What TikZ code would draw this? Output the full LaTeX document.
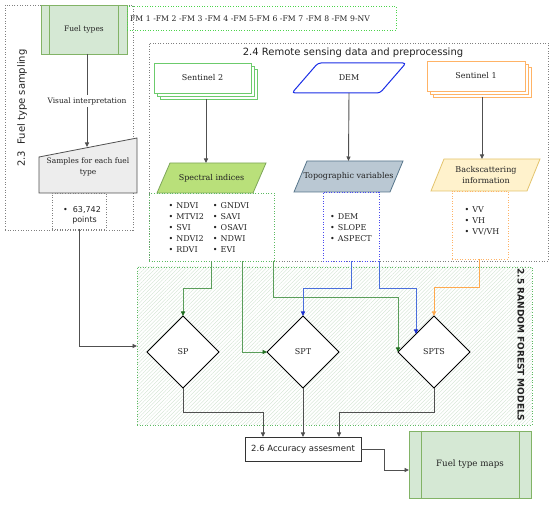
\documentclass[tikz,border=0pt]{standalone}
\usepackage{fontspec}
\setmainfont{DejaVu Serif}
\setsansfont{DejaVu Sans}
\usetikzlibrary{arrows.meta,shapes.geometric,patterns.meta,calc}
\definecolor{fuelfill}{HTML}{D5E8D4}
\definecolor{fuelline}{HTML}{82B366}
\definecolor{fmgreen}{HTML}{4CD44C}
\definecolor{s2green}{HTML}{6CCB6C}
\definecolor{demblue}{HTML}{1A2EE6}
\definecolor{s1orange}{HTML}{FFB366}
\definecolor{specfill}{HTML}{B9E07A}
\definecolor{specline}{HTML}{7EA65A}
\definecolor{topofill}{HTML}{BAC8D3}
\definecolor{topoline}{HTML}{56758A}
\definecolor{backfill}{HTML}{FFF2CC}
\definecolor{backline}{HTML}{E3C46E}
\definecolor{glist}{HTML}{5DBB63}
\definecolor{blist}{HTML}{4A4AF0}
\definecolor{olist}{HTML}{FFB366}
\definecolor{gconn}{HTML}{5A9E5A}
\definecolor{gtip}{HTML}{1E6E1E}
\definecolor{bconn}{HTML}{4A6FDC}
\definecolor{btip}{HTML}{1A2FD0}
\definecolor{oconn}{HTML}{FFA94D}
\definecolor{grayc}{HTML}{505050}
\definecolor{hatch}{HTML}{CFE2CF}
\definecolor{txt}{HTML}{222222}
\begin{document}
\begin{tikzpicture}[x=1pt,y=-1pt,
  every node/.style={inner sep=0pt,outer sep=0pt,text=txt},
  sf/.style={font=\fontsize{8}{9.5}\selectfont},
  sans/.style={font=\sffamily\fontsize{#1}{#1}\selectfont},
  grp/.style={draw=#1,line width=0.8pt,dash pattern=on 1pt off 1.6pt},
  proc/.style={draw=fuelline,fill=fuelfill,line width=0.8pt},
  stackbox/.style={draw=#1,fill=white,line width=0.9pt,minimum width=97,minimum height=30},
  garrow/.style={draw=grayc,line width=0.9pt,-{Triangle[length=4.5pt,width=4pt]}},
  grarrow/.style={draw=gconn,line width=0.9pt,-{Triangle[length=4.5pt,width=4pt,fill=gtip,color=gtip]}},
  blarrow/.style={draw=bconn,line width=0.9pt,-{Triangle[length=4.5pt,width=4pt,fill=btip,color=btip]}},
  orarrow/.style={draw=oconn,line width=0.9pt,-{Triangle[length=4.5pt,width=4pt]}},
  dia/.style={diamond,draw=black,fill=white,line width=0.9pt,minimum width=72,minimum height=72,sf},
]
\useasboundingbox (0,0) rectangle (550,505);

% ---------- 2.3 group
\node[grp=gray,minimum width=128,minimum height=225] (g23) at (69,117.5) {};
\node[sans=10,rotate=90] (t23) at (22,108) {2.3\ \ Fuel type sampling};

\node[proc,minimum width=86,minimum height=49,font=\fontsize{7.5}{9}\selectfont] (fuel) at (84,29.5) {Fuel types};
\draw[fuelline,line width=0.8pt] ([xshift=8pt]fuel.north west) -- ([xshift=8pt]fuel.south west)
  ([xshift=-9pt]fuel.north east) -- ([xshift=-9pt]fuel.south east);

\node[grp=fmgreen,minimum width=269,minimum height=24,text width=263,align=left,
  font=\fontsize{7.7}{9}\selectfont] (fm) at (261.5,18.5) {FM 1 -FM 2 -FM 3 -FM 4 -FM 5-FM 6 -FM 7 -FM 8 -FM 9-NV};

\node[minimum width=98,minimum height=55] (sampbb) at (88,165.5) {};
\draw[draw=grayc,fill=black!7,line width=0.8pt]
  (sampbb.south west) -- ([yshift=-19pt]sampbb.north west) -- (sampbb.north east) -- (sampbb.south east) -- cycle;
\node[align=center,font=\fontsize{7.5}{11}\selectfont] (samp) at (88,167) {Samples for each fuel\\type};
\coordinate (sampTop) at (87,147);

\draw[garrow] ([xshift=3pt]fuel.south) -- (sampTop);
\node[fill=white,inner ysep=2pt,font=\fontsize{7.5}{9}\selectfont] (vis) at (87,101) {Visual interpretation};

\node[grp=gray,minimum width=54,minimum height=36] (pts) at (79,211) {};
\node[sans=8,align=center] (ptstxt) at (82,215) {\textbullet\ \ 63,742\\[2pt]\ \ points};

% ---------- 2.4 group
\node[grp=gray,minimum width=399,minimum height=218] (g24) at (348.5,152) {};
\node[sans=10] (t24) at (353,52.5) {2.4 Remote sensing data and preprocessing};

\node[stackbox=s2green] (s2c) at (208.5,84) {};
\node[stackbox=s2green] (s2b) at (205.5,81) {};
\node[stackbox=s2green,sf] (s2) at (202.5,78) {Sentinel 2};

\node[minimum width=114,minimum height=30] (dem) at (349,78) {};
\draw[demblue,fill=white,line width=1pt,rounded corners=3pt]
  (dem.south west) -- ([xshift=26pt]dem.north west) -- (dem.north east) -- ([xshift=-26pt]dem.south east) -- cycle;
\node[sf] (demtxt) at (dem) {DEM};

\node[stackbox=s1orange,minimum width=98] (s1c) at (482,82) {};
\node[stackbox=s1orange,minimum width=98] (s1b) at (479,79) {};
\node[stackbox=s1orange,minimum width=98,sf] (s1) at (476,76) {Sentinel 1};

\node[minimum width=109,minimum height=30] (spec) at (211.5,178) {};
\draw[specline,fill=specfill,line width=0.8pt]
  (spec.south west) -- ([xshift=13pt]spec.north west) -- (spec.north east) -- ([xshift=-13pt]spec.south east) -- cycle;
\node[sf] (spectxt) at (spec) {Spectral indices};

\node[minimum width=109,minimum height=31] (topo) at (348.5,176.5) {};
\draw[topoline,fill=topofill,line width=0.8pt]
  (topo.south west) -- ([xshift=13pt]topo.north west) -- (topo.north east) -- ([xshift=-13pt]topo.south east) -- cycle;
\node[sf] (topotxt) at (topo) {Topographic variables};

\node[minimum width=109,minimum height=32] (back) at (485.5,175) {};
\draw[backline,fill=backfill,line width=0.8pt]
  (back.south west) -- ([xshift=13pt]back.north west) -- (back.north east) -- ([xshift=-13pt]back.south east) -- cycle;
\node[sf,align=center,font=\fontsize{8}{10.5}\selectfont] (backtxt) at (486,175) {Backscattering\\information};

\draw[garrow] ([xshift=-2.5pt]s2c.south) -- ([xshift=-2.5pt]s2c.south |- spec.north);
\draw[garrow] (dem.south) -- (topo.north);
\draw[garrow] (s1c.south) -- (s1c.south |- back.north);

\node[grp=glist,minimum width=125,minimum height=68] (speclist) at (211.5,227) {};
\node[font=\fontsize{8}{11}\selectfont] (spectab) at (209,228) {%
\begin{tabular}{@{}l@{\hspace{9pt}}l@{}}
\textbullet\hspace{3pt}NDVI & \textbullet\hspace{3pt}GNDVI\\
\textbullet\hspace{3pt}MTVI2 & \textbullet\hspace{3pt}SAVI\\
\textbullet\hspace{3pt}SVI & \textbullet\hspace{3pt}OSAVI\\
\textbullet\hspace{3pt}NDVI2 & \textbullet\hspace{3pt}NDWI\\
\textbullet\hspace{3pt}RDVI & \textbullet\hspace{3pt}EVI
\end{tabular}};

\node[grp=blist,minimum width=56,minimum height=69] (topolist) at (351,226.5) {};
\node[font=\fontsize{8}{11}\selectfont] (topotab) at (351,228) {%
\begin{tabular}{@{}l@{}}
\textbullet\hspace{3pt}DEM\\
\textbullet\hspace{3pt}SLOPE\\
\textbullet\hspace{3pt}ASPECT
\end{tabular}};

\node[grp=olist,minimum width=56,minimum height=68] (backlist) at (480,225) {};
\node[font=\fontsize{8}{11}\selectfont] (backtab) at (482,221) {%
\begin{tabular}{@{}l@{}}
\textbullet\hspace{3pt}VV\\
\textbullet\hspace{3pt}VH\\
\textbullet\hspace{3pt}VV/VH
\end{tabular}};

% ---------- 2.5 group
\node[minimum width=395,minimum height=158,fill=white,
  postaction={pattern={Lines[angle=45,distance=2.6pt,line width=0.35pt]},pattern color=hatch}] (rf) at (334.5,346) {};
\node[grp=glist,minimum width=395,minimum height=158] (rfb) at (334.5,346) {};
\node[sans=9,rotate=-90] (t25) at (521,345) {\bfseries 2.5 RANDOM FOREST MODELS};

\node[dia] (sp) at (183,352) {SP};
\node[dia] (spt) at (303,352) {SPT};
\node[dia] (spts) at (434,352) {SPTS};
\coordinate (sptsul) at ($(spts.west)!0.5!(spts.north)$);

\draw[garrow] (pts.south) |- (rf.west);

\draw[grarrow] (speclist.south) |- ([yshift=28pt]sp.north) -- (sp.north);
\draw[grarrow] ([xshift=30.5pt]speclist.south) |- (spt.west);
\draw[grarrow] ([xshift=-1pt]speclist.south east) |- ([yshift=55pt]spts.west) -- (spts.west);
\draw[blarrow] (topolist.south) |- ([yshift=28pt]spt.north) -- (spt.north);
\draw[blarrow] (topolist.south east) |- ([yshift=46pt]sptsul) -- (sptsul);
\draw[orarrow] ([xshift=-1pt]backlist.south) |- ([yshift=29pt]spts.north) -- (spts.north);

% ---------- 2.6
\node[draw=black!80,fill=white,line width=0.9pt,minimum width=116,minimum height=24,sans=8.5] (acc) at (303,449) {2.6 Accuracy assesment};
\node[proc,minimum width=122,minimum height=67,font=\fontsize{8.7}{10}\selectfont] (maps) at (470,464.5) {Fuel type maps};
\draw[fuelline,line width=0.8pt] ([xshift=12pt]maps.north west) -- ([xshift=12pt]maps.south west)
  ([xshift=-12pt]maps.north east) -- ([xshift=-12pt]maps.south east);

\draw[garrow] (sp.south) |- ([xshift=18pt,yshift=25pt]acc.north west) -- ([xshift=18pt]acc.north west);
\draw[garrow] (spt.south) -- (acc.north);
\draw[garrow] (spts.south) |- ([xshift=-22pt,yshift=25pt]acc.north east) -- ([xshift=-22pt]acc.north east);
\draw[garrow] (acc.east) -- ++(23,0) |- ([yshift=-5.5pt]maps.west);
\end{tikzpicture}
\end{document}
